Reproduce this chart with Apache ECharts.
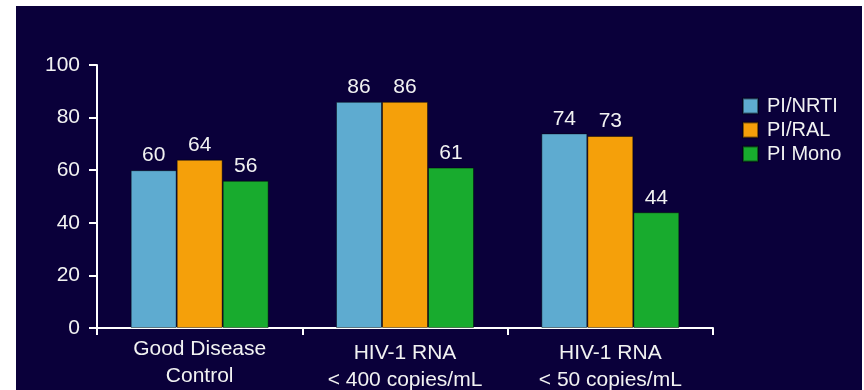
<!DOCTYPE html>
<html>
<head>
<meta charset="utf-8">
<script src="https://cdn.jsdelivr.net/npm/echarts@6/dist/echarts.min.js"></script>
<style>
  html, body { margin: 0; padding: 0; background: #ffffff; }
  #frame { position: absolute; left: 16px; top: 6px; width: 846px; height: 384px; background: #0a003a; }
  #chart { position: absolute; left: 0; top: 0; width: 864px; height: 390px; }
</style>
</head>
<body>
<div id="frame"></div>
<div id="chart"></div>
<script>
// Outcome categories along the x axis
const categories = ['Good Disease\nControl', 'HIV-1 RNA\n< 400 copies/mL', 'HIV-1 RNA\n< 50 copies/mL'];
// Percentages per treatment arm
const piNrti = [60, 86, 74];
const piRal = [64, 86, 73];
const piMono = [56, 61, 44];
const seriesNames = ['PI/NRTI', 'PI/RAL', 'PI Mono'];
const yTicks = [0, 20, 40, 60, 80, 100];

const colors = ['#5eabd0', '#f5a00a', '#18ab2e'];
const font = '"Liberation Sans", Arial, sans-serif';
const textColor = '#f2f2f2';
const fontSize = 21;

const chart = echarts.init(document.getElementById('chart'), null, { renderer: 'canvas' });

function barSeries(name, data, color) {
  return {
    name: name,
    type: 'bar',
    data: data,
    barWidth: 46,
    barGap: '0%',
    itemStyle: { color: color, borderColor: 'rgba(0,0,0,0.45)', borderWidth: 1 },
    label: {
      show: true,
      position: 'top',
      distance: 4,
      color: textColor,
      fontFamily: font,
      fontSize: fontSize
    }
  };
}

// the two HIV-1 RNA labels sit a few pixels lower than the first one
const categoryData = categories.map((c, i) => i === 0
  ? c
  : { value: c, textStyle: { padding: [4, 0, 0, 0] } });

chart.setOption({
  backgroundColor: 'transparent',
  animation: false,
  color: colors,
  grid: { left: 97, right: 151, top: 65, bottom: 62, containLabel: false, outerBoundsMode: 'none' },
  legend: {
    orient: 'vertical',
    left: 737,
    top: 91,
    itemWidth: 15,
    itemHeight: 15,
    itemGap: 4,
    icon: 'rect',
    data: seriesNames,
    textStyle: { color: textColor, fontFamily: font, fontSize: 20, padding: [0, 0, 0, 4] }
  },
  xAxis: {
    type: 'category',
    data: categoryData,
    boundaryGap: true,
    axisLine: { lineStyle: { color: '#ffffff', width: 2 } },
    axisTick: { show: true, length: 7, lineStyle: { color: '#ffffff', width: 2 } },
    axisLabel: {
      color: textColor,
      fontFamily: font,
      fontSize: fontSize,
      lineHeight: 27,
      margin: 8,
      interval: 0
    }
  },
  yAxis: {
    type: 'value',
    min: yTicks[0],
    max: yTicks[yTicks.length - 1],
    interval: yTicks[1] - yTicks[0],
    splitLine: { show: false },
    axisLine: { show: true, lineStyle: { color: '#ffffff', width: 2 } },
    axisTick: { show: true, length: 8, lineStyle: { color: '#ffffff', width: 2 } },
    axisLabel: { color: textColor, fontFamily: font, fontSize: fontSize, margin: 17 }
  },
  series: [
    barSeries(seriesNames[0], piNrti, colors[0]),
    barSeries(seriesNames[1], piRal, colors[1]),
    barSeries(seriesNames[2], piMono, colors[2])
  ]
});
</script>
</body>
</html>
